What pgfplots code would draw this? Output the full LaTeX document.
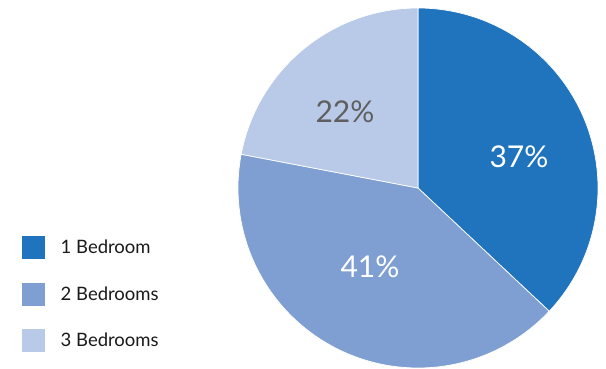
\documentclass[border=0pt]{standalone}
\usepackage{pgfplots}
\usepackage{pgfplotstable}
\pgfplotsset{compat=1.18}
\usepackage{fontspec}
\setmainfont{Lato}
\definecolor{cA}{HTML}{1F74BD}
\definecolor{cB}{HTML}{7F9FD3}
\definecolor{cC}{HTML}{B9C9E8}
\definecolor{lblgray}{HTML}{5F5F5F}
\definecolor{txt}{HTML}{1A1A1A}
\pgfplotstableread{
label value
1 37
2 41
3 22
}\piedata
\begin{document}
\begin{tikzpicture}
\pgfplotstablegetelem{0}{value}\of\piedata \let\vA\pgfplotsretval
\pgfplotstablegetelem{1}{value}\of\piedata \let\vB\pgfplotsretval
\pgfplotstablegetelem{2}{value}\of\piedata \let\vC\pgfplotsretval
\pgfmathsetmacro{\aZero}{90}
\pgfmathsetmacro{\aOne}{90-3.6*\vA}
\pgfmathsetmacro{\aTwo}{90-3.6*(\vA+\vB)}
\pgfmathsetmacro{\aThree}{90-3.6*(\vA+\vB+\vC)}
\begin{axis}[
  name=ax,
  scale only axis, width=606pt, height=369pt,
  xmin=0, xmax=606, ymin=0, ymax=369,
  hide axis, clip=false,
  legend style={draw=none, fill=none, at={(axis cs:21,134)}, anchor=north west,
    inner sep=0pt, outer sep=0pt, row sep=22pt,
    nodes={inner sep=0pt, font=\fontsize{18.5}{20}\selectfont, text=txt}},
  legend cell align=left,
  legend image code/.code={\fill[#1] (0pt,-12pt) rectangle (24pt,12pt); \path (24pt,0) -- (39pt,0);},
]
\addplot[fill=cA, draw=white, line width=0.7pt, domain=\aOne:\aZero, samples=120, variable=\t]
  ({418+180*cos(\t)},{181+180*sin(\t)}) -- (axis cs:418,181) -- cycle;
\addlegendentry{1 Bedroom}
\addplot[fill=cB, draw=white, line width=0.7pt, domain=\aTwo:\aOne, samples=120, variable=\t]
  ({418+180*cos(\t)},{181+180*sin(\t)}) -- (axis cs:418,181) -- cycle;
\addlegendentry{2 Bedrooms}
\addplot[fill=cC, draw=white, line width=0.7pt, domain=\aThree:\aTwo, samples=120, variable=\t]
  ({418+180*cos(\t)},{181+180*sin(\t)}) -- (axis cs:418,181) -- cycle;
\addlegendentry{3 Bedrooms}
\node[text=white, font=\fontsize{30}{32}\selectfont] at (axis cs:519,212) {37\%};
\node[text=white, font=\fontsize{30}{32}\selectfont] at (axis cs:370,102) {41\%};
\node[text=lblgray, font=\fontsize{30}{32}\selectfont] at (axis cs:345,257) {22\%};
\end{axis}
\pgfresetboundingbox
\path[use as bounding box] (ax.south west) rectangle (ax.north east);
\end{tikzpicture}
\end{document}
